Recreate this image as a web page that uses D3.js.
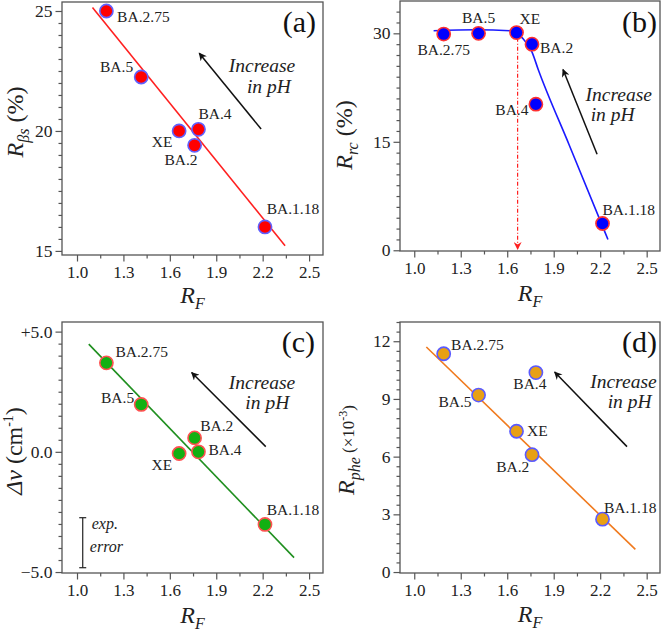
<!DOCTYPE html>
<html><head><meta charset="utf-8">
<script src="https://cdn.jsdelivr.net/npm/d3@7"></script>
<style>
body{margin:0;background:#fff;}
svg{display:block;}
svg text{font-family:"Liberation Serif","Tinos","Times New Roman","DejaVu Serif","Noto Serif",serif;}
</style></head><body>
<svg id="chart" width="664" height="632"></svg>
<script>
// ---------- DATA ----------
const variants = ["BA.2.75", "BA.5", "XE", "BA.2", "BA.4", "BA.1.18"];
const rF      = [1.19, 1.415, 1.66, 1.76, 1.785, 2.215];
const rBetaS  = [25.0, 22.25, 20.0, 19.4, 20.07, 16.0];
const rRC     = [29.9, 30.0, 30.1, 28.5, 20.2, 3.7];
const dNu     = [3.7, 1.97, -0.07, 0.58, 0.0, -3.02];
const rPhe    = [11.35, 9.2, 7.32, 6.1, 10.37, 2.75];

const fitAx = [1.10, 2.345],  fitAy = [25.15, 15.22];
const fitBx = [1.125, 1.40, 1.62, 1.70, 1.76, 1.80, 2.00, 2.25];
const fitBy = [30.35, 30.5, 30.35, 29.3, 27.4, 25.0, 14.56, 1.5];
const fitCx = [1.076, 2.403], fitCy = [4.48, -4.40];
const fitDx = [1.078, 2.427], fitDy = [11.70, 1.18];
const xeRF = 1.667;           // dashed marker in (b)
const expError = [-2.74, -4.82];

const xTicks  = [1.0, 1.3, 1.6, 1.9, 2.2, 2.5];
const yTicksA = [15, 20, 25];
const yTicksB = [0, 15, 30];
const yTicksC = [-5, 0, 5];
const yTicksD = [0, 3, 6, 9, 12];
const yTickLabelsC = ["\u22125.0", "0.0", "+5.0"];

// ---------- LAYOUT ----------
const svg = d3.select("#chart");
const defs = svg.append("defs");
function mk(id, color, w, h){
  defs.append("marker").attr("id", id).attr("viewBox", "0 0 10 10")
    .attr("refX", 9).attr("refY", 5).attr("markerWidth", w).attr("markerHeight", h)
    .attr("markerUnits", "userSpaceOnUse").attr("orient", "auto")
    .append("path").attr("d", "M0,0 L10,5 L0,10 L3,5 Z").attr("fill", color);
}
mk("arrBlack", "#111", 10, 8);
mk("arrRed", "#ff2020", 8, 8);

const panels = [
  { letter:"(a)", frame:{l:62,t:2,r:323,b:255}, xDom:[0.903,2.590], yDom:[14.83,25.375],
    y:rBetaS, fx:fitAx, fy:fitAy, curve:d3.curveLinear, yTicks:yTicksA, yMinor:0.5,
    yFmt:d=>String(d), line:"#ff2020", fill:"#ff0000", stroke:"#6060ff",
    labels:[["start",10.7,11],["end",-8,-5],["end",-6.6,16],["end",3,19.7],["start",0,-10],["start",1.7,-12.7]],
    arrow:[[2.19,20.08],[1.79,23.24]], inc:[2.196,22.45], inph:[2.24,21.6],
    letterPos:[316,32], xLab:[192.5,303], yLab:[23,122], yLabKind:"a" },
  { letter:"(b)", frame:{l:400,t:1,r:660,b:251}, xDom:[0.908,2.586], yDom:[-0.1,34.47],
    y:rRC, fx:fitBx, fy:fitBy, curve:d3.curveMonotoneX, yTicks:yTicksB, yMinor:1.5,
    yFmt:d=>String(d), line:"#1a1aff", fill:"#0000ff", stroke:"#ff3030",
    labels:[["middle",0,21],["middle",0,-10],["start",3,-9],["start",8,9],["end",-7.4,10.7],["start",0,-8.3]],
    arrow:[[2.18,13.28],[1.96,25.0]], inc:[2.32,20.64], inph:[2.28,17.87],
    letterPos:[657,31.5], xLab:[530,301], yLab:[352,135], yLabKind:"b" },
  { letter:"(c)", frame:{l:62,t:322,r:323,b:573}, xDom:[0.903,2.590], yDom:[-5.04,5.40],
    y:dNu, fx:fitCx, fy:fitCy, curve:d3.curveLinear, yTicks:yTicksC, yMinor:0.5,
    yFmt:(d,i)=>yTickLabelsC[i], line:"#1f8f1f", fill:"#12b012", stroke:"#ff5050",
    labels:[["start",9,-5.6],["end",-7,-1.7],["end",-7,16],["start",5.6,-7.3],["start",10,3.3],["start",1.7,-9.7]],
    arrow:[[2.22,0.216],[1.741,3.30]], inc:[2.196,2.60], inph:[2.23,1.77],
    letterPos:[315,352], xLab:[192.5,623], yLab:[22,451], yLabKind:"c" },
  { letter:"(d)", frame:{l:400,t:322,r:660,b:573}, xDom:[0.908,2.586], yDom:[-0.05,13.0],
    y:rPhe, fx:fitDx, fy:fitDy, curve:d3.curveLinear, yTicks:yTicksD, yMinor:0.5,
    yFmt:d=>String(d), line:"#f07a1e", fill:"#e8a014", stroke:"#5a5aff",
    labels:[["start",7.4,-3.3],["end",-7,12.4],["start",10.6,5],["end",-2.7,17],["middle",-6,16.7],["start",1.4,-6.6]],
    arrow:[[2.373,6.52],[1.906,10.40]], inc:[2.35,9.575], inph:[2.39,8.53],
    letterPos:[657,352], xLab:[530,622], yLab:[354,450], yLabKind:"d" }
];

const axisColor = "#555", textColor = "#222";

function range(a, b, step){ const out=[]; for(let v=a; v<=b+1e-9; v+=step) out.push(+v.toFixed(4)); return out; }

panels.forEach(p => {
  const f = p.frame;
  const x = d3.scaleLinear().domain(p.xDom).range([f.l, f.r]);
  const y = d3.scaleLinear().domain(p.yDom).range([f.b, f.t]);
  const g = svg.append("g");

  // minor ticks
  const xMinor = range(0.85, 2.65, 0.15).filter(v => v >= p.xDom[0] && v <= p.xDom[1] && !xTicks.some(t => Math.abs(t - v) < 1e-6));
  g.append("g").attr("transform", `translate(0,${f.b})`)
    .call(d3.axisBottom(x).tickValues(xMinor).tickSize(3.5).tickFormat(""))
    .call(s => { s.select(".domain").remove(); s.selectAll("line").attr("stroke", axisColor).attr("stroke-width", 1.2); });
  const yMin = Math.ceil(p.yDom[0] / p.yMinor) * p.yMinor;
  const yMinorV = range(yMin, p.yDom[1], p.yMinor).filter(v => !p.yTicks.some(t => Math.abs(t - v) < 1e-6));
  g.append("g").attr("transform", `translate(${f.l},0)`)
    .call(d3.axisLeft(y).tickValues(yMinorV).tickSize(3.5).tickFormat(""))
    .call(s => { s.select(".domain").remove(); s.selectAll("line").attr("stroke", axisColor).attr("stroke-width", 1.2); });

  // major axes
  g.append("g").attr("transform", `translate(0,${f.b})`)
    .call(d3.axisBottom(x).tickValues(xTicks).tickSize(6.5).tickPadding(4).tickFormat(d3.format(".1f")))
    .call(s => {
      s.attr("font-family", null);
      s.select(".domain").remove();
      s.selectAll("line").attr("stroke", axisColor).attr("stroke-width", 1.2);
      s.selectAll("text").attr("font-size", 17).attr("fill", textColor);
    });
  g.append("g").attr("transform", `translate(${f.l},0)`)
    .call(d3.axisLeft(y).tickValues(p.yTicks).tickSize(6.5).tickPadding(3).tickFormat(p.yFmt))
    .call(s => {
      s.attr("font-family", null);
      s.select(".domain").remove();
      s.selectAll("line").attr("stroke", axisColor).attr("stroke-width", 1.2);
      s.selectAll("text").attr("font-size", 17.5).attr("fill", textColor);
    });

  // frame
  g.append("rect").attr("x", f.l).attr("y", f.t).attr("width", f.r - f.l).attr("height", f.b - f.t)
    .attr("fill", "none").attr("stroke", axisColor).attr("stroke-width", 1.3);

  // fit line
  const pts = p.fx.map((v, i) => [v, p.fy[i]]);
  g.append("path").datum(pts)
    .attr("d", d3.line().x(d => x(d[0])).y(d => y(d[1])).curve(p.curve))
    .attr("fill", "none").attr("stroke", p.line).attr("stroke-width", 1.6);

  // extras
  if (p.letter === "(b)") {
    g.append("line").attr("x1", x(xeRF)).attr("x2", x(xeRF)).attr("y1", y(29.4)).attr("y2", y(0.15))
      .attr("stroke", "#ff2020").attr("stroke-width", 1.2).attr("stroke-dasharray", "4,2,1,2")
      .attr("marker-end", "url(#arrRed)");
  }
  if (p.letter === "(c)") {
    const ex = x(1.037);
    g.append("line").attr("x1", ex).attr("x2", ex).attr("y1", y(expError[0])).attr("y2", y(expError[1]))
      .attr("stroke", "#222").attr("stroke-width", 1.2);
    expError.forEach(v => g.append("line").attr("x1", ex - 3.5).attr("x2", ex + 3.5).attr("y1", y(v)).attr("y2", y(v))
      .attr("stroke", "#222").attr("stroke-width", 1.2));
    g.append("text").attr("x", x(1.18)).attr("y", y(-3.19)).attr("text-anchor", "middle")
      .attr("font-style", "italic").attr("font-size", 16).attr("fill", textColor).text("exp.");
    g.append("text").attr("x", x(1.19)).attr("y", y(-4.17)).attr("text-anchor", "middle")
      .attr("font-style", "italic").attr("font-size", 16).attr("fill", textColor).text("error");
  }

  // points
  g.selectAll("circle.pt").data(variants).enter().append("circle")
    .attr("cx", (d, i) => x(rF[i])).attr("cy", (d, i) => y(p.y[i])).attr("r", 6.6)
    .attr("fill", p.fill).attr("stroke", p.stroke).attr("stroke-width", 1.6);

  // point labels
  g.selectAll("text.lbl").data(variants).enter().append("text")
    .attr("x", (d, i) => x(rF[i]) + p.labels[i][1]).attr("y", (d, i) => y(p.y[i]) + p.labels[i][2])
    .attr("text-anchor", (d, i) => p.labels[i][0])
    .attr("font-size", 15.5).attr("fill", textColor).text(d => d);

  // pH arrow + text
  g.append("line").attr("x1", x(p.arrow[0][0])).attr("y1", y(p.arrow[0][1]))
    .attr("x2", x(p.arrow[1][0])).attr("y2", y(p.arrow[1][1]))
    .attr("stroke", "#111").attr("stroke-width", 1.5).attr("marker-end", "url(#arrBlack)");
  g.append("text").attr("x", x(p.inc[0])).attr("y", y(p.inc[1])).attr("text-anchor", "middle")
    .attr("font-style", "italic").attr("font-size", 19.5).attr("fill", textColor).text("Increase");
  g.append("text").attr("x", x(p.inph[0])).attr("y", y(p.inph[1])).attr("text-anchor", "middle")
    .attr("font-style", "italic").attr("font-size", 19.5).attr("fill", textColor).text("in pH");

  // panel letter
  g.append("text").attr("x", p.letterPos[0]).attr("y", p.letterPos[1]).attr("text-anchor", "end")
    .attr("font-size", 30).attr("fill", "#111").text(p.letter);

  // x label
  const xl = g.append("text").attr("x", p.xLab[0]).attr("y", p.xLab[1]).attr("text-anchor", "middle")
    .attr("fill", textColor).attr("font-size", 24);
  xl.append("tspan").attr("font-style", "italic").text("R");
  xl.append("tspan").attr("font-style", "italic").attr("font-size", 16).attr("dy", 6).text("F");

  // y label
  const yl = g.append("text").attr("transform", `translate(${p.yLab[0]},${p.yLab[1]}) rotate(-90)`)
    .attr("text-anchor", "middle").attr("fill", textColor).attr("font-size", 24);
  if (p.yLabKind === "a" || p.yLabKind === "b") {
    yl.append("tspan").attr("font-style", "italic").text("R");
    yl.append("tspan").attr("font-style", "italic").attr("font-size", 16).attr("dy", 6).text(p.yLabKind === "a" ? "\u03B2s" : "rc");
    yl.append("tspan").attr("dy", -6).text(" (%)");
  } else if (p.yLabKind === "c") {
    yl.append("tspan").attr("font-style", "italic").text("\u0394\u03BD");
    yl.append("tspan").text(" (cm");
    yl.append("tspan").attr("font-size", 14).attr("dy", -9).text("-1");
    yl.append("tspan").attr("dy", 9).text(")");
  } else {
    yl.append("tspan").attr("font-style", "italic").text("R");
    yl.append("tspan").attr("font-style", "italic").attr("font-size", 16).attr("dy", 6).text("phe");
    yl.append("tspan").attr("dy", -6).attr("font-size", 17).text(" (\u00D710");
    yl.append("tspan").attr("font-size", 12).attr("dy", -7).text("-3");
    yl.append("tspan").attr("font-size", 17).attr("dy", 7).text(")");
  }
});
</script></body></html>
